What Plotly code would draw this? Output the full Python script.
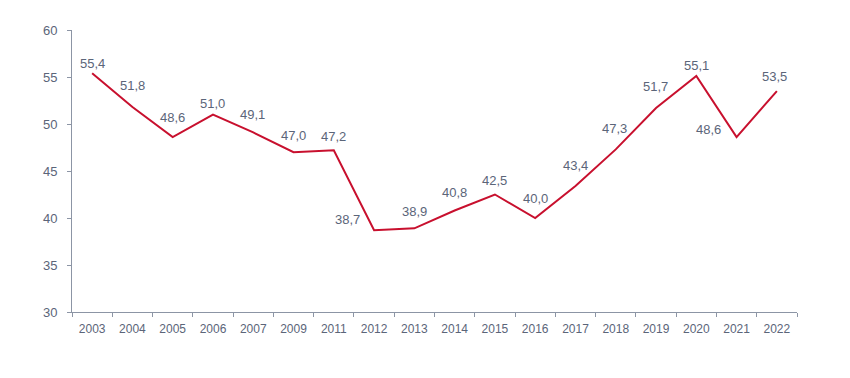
import plotly.graph_objects as go

years = ["2003", "2004", "2005", "2006", "2007", "2009", "2011", "2012", "2013",
         "2014", "2015", "2016", "2017", "2018", "2019", "2020", "2021", "2022"]
values = [55.4, 51.8, 48.6, 51.0, 49.1, 47.0, 47.2, 38.7, 38.9,
          40.8, 42.5, 40.0, 43.4, 47.3, 51.7, 55.1, 48.6, 53.5]

# label placement (style only): vertical shift in px, horizontal shift, anchor
label_dy = [10, 22, 20, 11, 18, 17, 14, 11, 17, 18, 14, 20, 21, 21, 22, 11, 8, 15]
label_dx = [0, 0, 0, 0, -1, 0, 0, -12, 0, 0, 0, 0, 0, -1, -1, 0, -14, -2]
label_anchor = ["center"] * len(years)
label_anchor[7] = "right"
label_anchor[16] = "right"

text_color = "#5b6579"
axis_color = "#8c95a5"
font_family = "Liberation Sans, Arial, sans-serif"

fig = go.Figure(go.Scatter(
    x=years, y=values, mode="lines",
    line=dict(color="#c8102e", width=2),
    hoverinfo="skip",
))

for i, (v, dy, dx, anc) in enumerate(zip(values, label_dy, label_dx, label_anchor)):
    fig.add_annotation(
        x=i, y=v, xref="x", yref="y",
        text=f"{v:.1f}".replace(".", ","), showarrow=False,
        xanchor=anc, yanchor="middle", xshift=dx, yshift=dy,
        font=dict(family=font_family, size=13, color=text_color),
    )

fig.update_layout(
    width=850, height=378,
    margin=dict(l=64, r=61, t=22, b=74),
    paper_bgcolor="white", plot_bgcolor="white",
    showlegend=False,
    font=dict(family=font_family, size=12, color=text_color),
)
fig.update_xaxes(
    type="category", range=[-0.5, len(years) - 0.5], automargin=False,
    showgrid=False, showline=True, linecolor=axis_color, linewidth=1,
    ticks="outside", tickson="boundaries", ticklen=4, tickcolor=axis_color,
    ticklabelstandoff=6,
    tickfont=dict(size=12, color=text_color), zeroline=False,
)
fig.update_yaxes(
    range=[30, 60], dtick=5, automargin=False, showgrid=False, showline=True,
    linecolor=axis_color, linewidth=1, ticks="outside", ticklen=4, tickcolor=axis_color,
    ticklabelstandoff=7,
    tickfont=dict(size=13, color=text_color), zeroline=False,
)

fig.write_html("out.html")
